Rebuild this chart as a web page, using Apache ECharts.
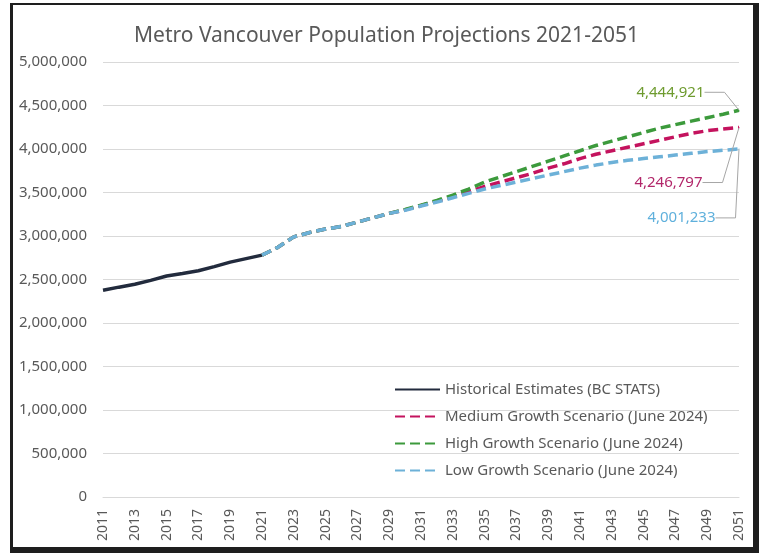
<!DOCTYPE html>
<html>
<head>
<meta charset="utf-8">
<script src="https://cdn.jsdelivr.net/npm/echarts@6/dist/echarts.min.js"></script>
<style>
  html, body { margin: 0; padding: 0; background: #fff; }
  #chart { position: absolute; left: 0; top: 0; width: 759px; height: 553px; }
  #frame { position: absolute; left: 10px; top: 3px; right: 0; bottom: 0;
           border-left: 3px solid #1e1e1e; border-top: 2px solid #1e1e1e;
           border-right: 6px solid #1e1e1e; border-bottom: 6px solid #1e1e1e; pointer-events: none; }
</style>
</head>
<body>
<div id="chart"></div>
<div id="frame"></div>
<script>
const years = ['2011','2012','2013','2014','2015','2016','2017','2018','2019','2020',
  '2021','2022','2023','2024','2025','2026','2027','2028','2029','2030',
  '2031','2032','2033','2034','2035','2036','2037','2038','2039','2040',
  '2041','2042','2043','2044','2045','2046','2047','2048','2049','2050','2051'];

// 2011-2021
const historical = [2377000, 2412000, 2445000, 2490000, 2540000, 2568000, 2600000, 2648000, 2700000, 2740000, 2780000];

// 2021-2051
const medium = [2780000, 2870000, 2990000, 3040000, 3080000, 3110000, 3160000, 3210000, 3260000, 3300000,
  3350000, 3400000, 3450000, 3510000, 3570000, 3620000, 3670000, 3720000, 3780000, 3830000,
  3890000, 3940000, 3980000, 4020000, 4060000, 4100000, 4140000, 4180000, 4210000, 4230000, 4246797];
const high = [2780000, 2870000, 2990000, 3040000, 3080000, 3110000, 3160000, 3210000, 3260000, 3305000,
  3355000, 3410000, 3470000, 3540000, 3620000, 3680000, 3740000, 3800000, 3860000, 3920000,
  3980000, 4040000, 4090000, 4140000, 4190000, 4240000, 4280000, 4320000, 4360000, 4400000, 4444921];
const low = [2780000, 2870000, 2990000, 3040000, 3080000, 3110000, 3160000, 3210000, 3260000, 3295000,
  3345000, 3390000, 3440000, 3490000, 3540000, 3580000, 3620000, 3660000, 3700000, 3740000,
  3780000, 3815000, 3845000, 3870000, 3890000, 3910000, 3930000, 3950000, 3970000, 3985000, 4001233];

const fmt = v => Number(v).toLocaleString('en-US');
const FONT = 'Noto Sans';

// pad projections with nulls before 2021, label only the last point
function projData(arr) {
  const pad = years.length - arr.length;
  const out = new Array(pad).fill(null);
  arr.forEach((v, i) => {
    if (i === arr.length - 1) out.push({ value: v, symbol: 'circle', symbolSize: 1, label: { show: true } });
    else out.push(v);
  });
  return out;
}

function projSeries(name, arr, color, textColor, dx, dy) {
  return {
    name: name,
    type: 'line',
    data: projData(arr),
    symbol: 'none',
    showSymbol: true,
    itemStyle: { color: color },
    lineStyle: { color: color, width: 3.5, type: [10, 5] },
    label: {
      show: false, position: 'left', distance: 5,
      formatter: p => fmt(p.value),
      color: textColor, fontFamily: FONT, fontSize: 15
    },
    labelLine: { show: true, length2: 20, lineStyle: { color: '#a6a6a6', width: 1 } },
    labelLayout: { dx: dx, dy: dy },
    animation: false
  };
}

const chart = echarts.init(document.getElementById('chart'));
chart.setOption({
  backgroundColor: '#fff',
  title: {
    text: 'Metro Vancouver Population Projections 2021-2051',
    left: 129, top: 21,
    textStyle: { fontFamily: FONT, fontSize: 21, fontWeight: 'normal', color: '#595959' }
  },
  grid: { left: 103, right: 20, top: 62, bottom: 56 },
  legend: {
    orient: 'vertical', left: 389, top: 377,
    itemWidth: 45, itemHeight: 14, itemGap: 12,
    itemStyle: { opacity: 0 },
    textStyle: { fontFamily: FONT, fontSize: 15, color: '#595959' },
    data: ['Historical Estimates (BC STATS)', 'Medium Growth Scenario (June 2024)',
      'High Growth Scenario (June 2024)', 'Low Growth Scenario (June 2024)']
  },
  xAxis: {
    type: 'category', data: years, boundaryGap: false,
    axisLine: { lineStyle: { color: '#d9d9d9' } },
    axisTick: { show: false },
    axisLabel: { interval: 1, rotate: 90, margin: 12, fontFamily: FONT, fontSize: 14, color: '#595959' }
  },
  yAxis: {
    type: 'value', min: 0, max: 5000000, interval: 500000,
    axisLine: { show: false }, axisTick: { show: false },
    splitLine: { lineStyle: { color: '#d9d9d9', width: 1 } },
    axisLabel: { margin: 16, formatter: fmt, fontFamily: FONT, fontSize: 15, color: '#595959' }
  },
  series: [
    {
      name: 'Historical Estimates (BC STATS)', type: 'line', data: historical,
      symbol: 'none', itemStyle: { color: '#222b3d' },
      lineStyle: { color: '#222b3d', width: 3.5 }, animation: false
    },
    projSeries('Medium Growth Scenario (June 2024)', medium, '#c4135e', '#b2276a', -31, 55),
    projSeries('High Growth Scenario (June 2024)', high, '#3c9a3c', '#6e9b2f', -29, -18),
    projSeries('Low Growth Scenario (June 2024)', low, '#6db1d8', '#5fb0dc', -18, 69)
  ]
});
window.addEventListener('resize', () => chart.resize());
</script>
</body>
</html>
